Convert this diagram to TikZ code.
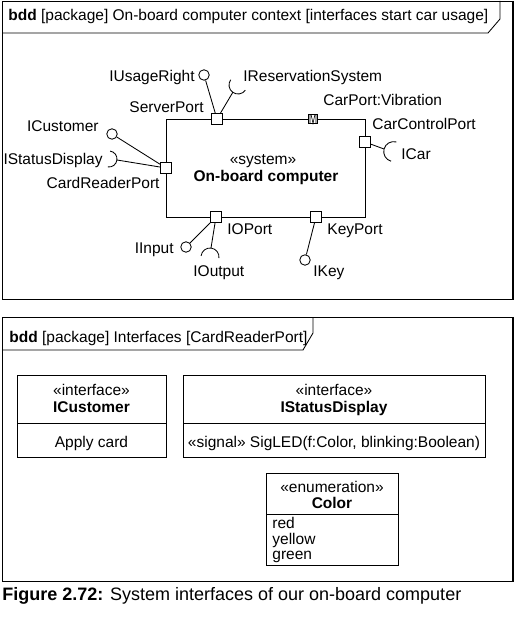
\documentclass[tikz,border=0pt]{standalone}
\usepackage{fontspec}
\setmainfont{Liberation Sans}
\newcommand\fs{\fontsize{15.5}{18}\selectfont}
\begin{document}
\begin{tikzpicture}[x=1pt,y=-1pt, line width=0.85pt,
  lbl/.style={inner sep=0pt, font=\fs},
  port/.style={draw, fill=white, minimum size=11pt, inner sep=0pt},
  ball/.style={draw, circle, minimum size=10.5pt, inner sep=0pt},
  box/.style={draw, inner sep=0pt}]
\useasboundingbox (0,0) rectangle (519,617);

% frame 1
\draw (2,1) rectangle (513,299);
\draw (2,33) -- (488,33) -- (500,19) -- (500,1);
\draw[line width=2.5pt] (513,1) -- (513,299);
\node[lbl, anchor=base west] (h1) at (8,21) {\textbf{bdd} [package] On-board computer context [interfaces start car usage]};

% block
\node[box, minimum width=199pt, minimum height=98pt] (obc) at (265.5,168) {};
\node[lbl, anchor=base] (st) at (263,165) {«system»};
\node[lbl, anchor=base, font=\fs\bfseries] (obcname) at (266,182) {On-board computer};

% ports
\node[port] (sp) at (217,119) {};
\node[port] (ccp) at (365,142) {};
\node[port] (crp) at (166,168) {};
\node[port] (iop) at (216,217) {};
\node[port] (kp) at (316,217) {};
\node[port, minimum size=9pt] (cpv) at (313,119) {};
\draw[line width=0.6pt] ([xshift=-3pt]cpv.north) -- ([xshift=-3pt]cpv.south)
  ([xshift=3pt]cpv.north) -- ([xshift=3pt]cpv.south)
  ([xshift=-2pt]cpv.north) -- ([yshift=0.5pt]cpv.south) -- ([xshift=2pt]cpv.north);

% provided interfaces (balls)
\node[ball] (iur) at (204,75) {};
\node[ball] (icu) at (112,134) {};
\node[ball] (iin) at (186,247) {};
\node[ball] (iky) at (305,260) {};
\draw (sp) -- (iur);
\draw (crp) -- (icu);
\draw (iop) -- (iin);
\draw (kp) -- (iky);

% required interfaces (sockets)
\coordinate (irsE) at (233,92);
\coordinate (irsC) at (238,85);
\draw (sp) -- (irsE);
\draw ([shift={(144.5:9pt)}]irsC) arc[start angle=144.5, end angle=324.5, radius=9pt];

\coordinate (isdE) at (117,160);
\coordinate (isdC) at (109,159);
\draw (crp) -- (isdE);
\draw ([shift={(262:8pt)}]isdC) arc[start angle=262, end angle=442, radius=8pt];

\coordinate (icaE) at (384,149);
\coordinate (icaC) at (393.7,151.6);
\draw (ccp) -- (icaE);
\draw ([shift={(75:10pt)}]icaC) arc[start angle=75, end angle=255, radius=10pt];

\coordinate (iouE) at (211,248);
\coordinate (iouC) at (210,257);
\draw (iop) -- (iouE);
\draw ([shift={(353:9pt)}]iouC) arc[start angle=353, end angle=533, radius=9pt];

% labels
\node[lbl, anchor=base east] (l1) at (195,82) {IUsageRight};
\node[lbl, anchor=base west] (l2) at (243,82) {IReservationSystem};
\node[lbl, anchor=base east] (l3) at (204,113) {ServerPort};
\node[lbl, anchor=base west] (l4) at (323,106) {CarPort:Vibration};
\node[lbl, anchor=base west] (l5) at (372,130) {CarControlPort};
\node[lbl, anchor=base east] (l6) at (99,132) {ICustomer};
\node[lbl, anchor=base east] (l7) at (103,165) {IStatusDisplay};
\node[lbl, anchor=base west] (l8) at (401,160) {ICar};
\node[lbl, anchor=base east] (l9) at (160,189) {CardReaderPort};
\node[lbl, anchor=base west] (l10) at (227,234) {IOPort};
\node[lbl, anchor=base west] (l11) at (327,234) {KeyPort};
\node[lbl, anchor=base east] (l12) at (174,253) {IInput};
\node[lbl, anchor=base west] (l13) at (193,276) {IOutput};
\node[lbl, anchor=base west] (l14) at (313,276) {IKey};

% frame 2
\draw (2,317) rectangle (513,581);
\draw (2,350) -- (303,350) -- (313,333) -- (313,317);
\draw[line width=2.5pt] (513,317) -- (513,581);
\node[lbl, anchor=base west] (h2) at (9,342) {\textbf{bdd} [package] Interfaces [CardReaderPort]};

% ICustomer
\node[box, minimum width=149pt, minimum height=82pt] (icb) at (91.5,416) {};
\draw (17,423) -- (166,423);
\node[lbl, anchor=base] (t1) at (91.5,395) {«interface»};
\node[lbl, anchor=base, font=\fs\bfseries] (t2) at (91.5,412) {ICustomer};
\node[lbl, anchor=base] (t3) at (91.5,447) {Apply card};

% IStatusDisplay
\node[box, minimum width=302pt, minimum height=82pt] (isb) at (334,416) {};
\draw (183,423) -- (485,423);
\node[lbl, anchor=base] (t4) at (334,395) {«interface»};
\node[lbl, anchor=base, font=\fs\bfseries] (t5) at (334,412) {IStatusDisplay};
\node[lbl, anchor=base] (t6) at (334,447) {«signal» SigLED(f:Color, blinking:Boolean)};

% Color
\node[box, minimum width=132pt, minimum height=92pt] (colb) at (332,519) {};
\draw (266,514) -- (398,514);
\node[lbl, anchor=base] (t7) at (332,492) {«enumeration»};
\node[lbl, anchor=base, font=\fs\bfseries] (t8) at (332,508) {Color};
\node[lbl, anchor=base west] (t9) at (272,528) {red};
\node[lbl, anchor=base west] (t10) at (272,544) {yellow};
\node[lbl, anchor=base west] (t11) at (272,559) {green};

% caption
\node[inner sep=0pt, anchor=base west, font=\fontsize{18}{21}\selectfont] (cap) at (2,600) {\textbf{Figure 2.72:} System interfaces of our on-board computer};
\end{tikzpicture}
\end{document}
